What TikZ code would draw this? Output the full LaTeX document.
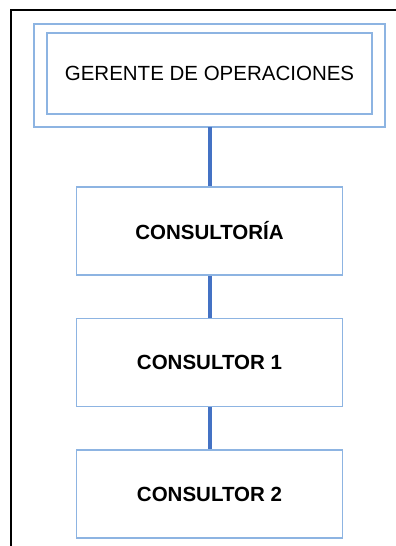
\documentclass[tikz,border=0pt]{standalone}
\usepackage{fontspec}
\setmainfont{Liberation Sans}
\usetikzlibrary{positioning}

\definecolor{cajaazul}{HTML}{8DB4E2}
\definecolor{lineaazul}{HTML}{4472C4}

\begin{document}
\begin{tikzpicture}[%
    x=1pt,
    y=-1pt,
    node distance=131.5pt,
    on grid,
    puesto/.style={draw=cajaazul, line width=1.6pt, minimum width=266pt,
      minimum height=88pt, font=\bfseries\fontsize{20.5}{24}\selectfont},
    enlace/.style={draw=lineaazul, line width=4pt}
  ]

  \useasboundingbox (0,0) rectangle (396,546);

  % marco negro
  \draw[line width=2.5pt] (11,546) -- (11,10) -- (396,10);

  \node[draw=cajaazul, line width=1.6pt, minimum width=325pt, minimum height=81pt,
    font=\fontsize{20.5}{24}\selectfont] (gerente) at (209.5,73.5) {GERENTE DE OPERACIONES};
  \draw[cajaazul, line width=1.6pt]
    ([shift={(-12,-8)}]gerente.north west) coordinate (marcoA)
    rectangle ([shift={(12,12)}]gerente.south east) coordinate (marcoB);
  \coordinate (marcoS) at (gerente.south |- marcoB);

  \node[puesto] (consultoria) [below=157.5pt of gerente] {CONSULTORÍA};
  \node[puesto] (consultor1)  [below=of consultoria]     {CONSULTOR 1};
  \node[puesto] (consultor2)  [below=of consultor1]      {CONSULTOR 2};

  \path[enlace]
              (marcoS)      edge (consultoria)
              (consultoria) edge (consultor1)
              (consultor1)  edge (consultor2);
\end{tikzpicture}
\end{document}
